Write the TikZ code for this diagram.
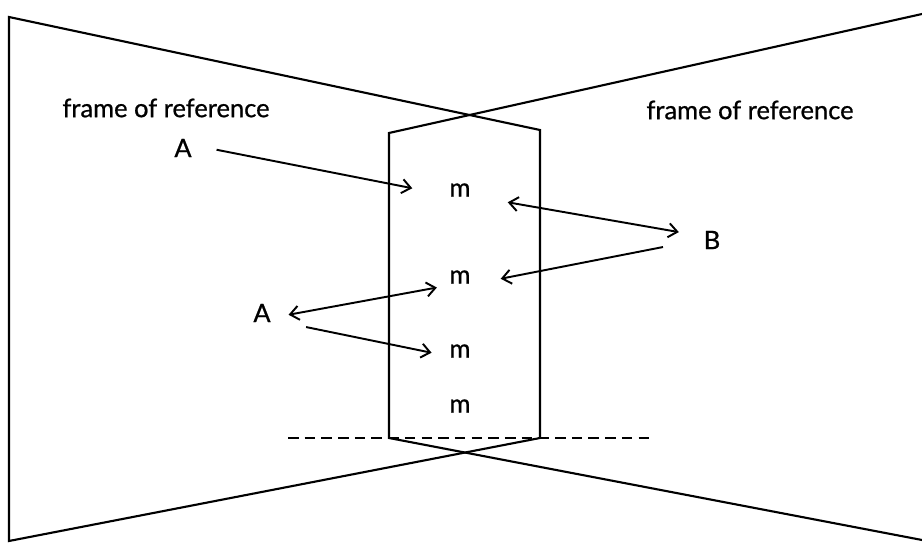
\documentclass[tikz,border=0pt]{standalone}
\usepackage{fontspec}
\setmainfont{Lato}
\newfontfamily\lblfont{Lato}[FakeBold=0.8]
\usetikzlibrary{arrows.meta}

\begin{document}
\begin{tikzpicture}[x=0.02cm, y=-0.02cm,
  wall/.style={line width=1.2pt, line join=miter},
  lbl/.style={font=\lblfont\fontsize{14.5}{17}\selectfont, inner sep=2pt},
  link/.style={line width=1.1pt, -{Straight Barb[length=5pt,width=8pt]}},
  both/.style={line width=1.1pt, {Straight Barb[length=5pt,width=8pt]}-{Straight Barb[length=5pt,width=8pt]}}]
\useasboundingbox (0,0) rectangle (922,543);
% the two frames, seen edge-on where they cross
\draw[wall] (9,17) -- (540,130) -- (540,438) -- (9,541) -- cycle;
\draw[wall] (922,14) -- (389,133) -- (389,438) -- (922,540);
\draw[wall, line width=1.4pt, dash pattern=on 6pt off 3.5pt] (288,438) -- (655,438);
% labels
\node[lbl] (fl) at (166,108) {frame of reference};
\node[lbl] (fr) at (750,110) {frame of reference};
\node[lbl] (A1) at (183,148) {A};
\node[lbl] (A2) at (262,313) {A};
\node[lbl] (B) at (712,240) {B};
\node[lbl] (m1) at (460,190) {m};
\node[lbl] (m2) at (460,277) {m};
\node[lbl] (m3) at (460,351) {m};
\node[lbl] (m4) at (460,406) {m};
% signals between A, B and the masses
\draw[link] ([xshift=12pt,yshift=-1pt]A1.east) -- ([xshift=-19pt,yshift=1pt]m1.west);
\draw[both] ([xshift=19pt,yshift=-7pt]m1.east) -- ([xshift=-12pt,yshift=4.5pt]B.west);
\draw[link] ([xshift=-21pt,yshift=-4pt]B.west) -- ([xshift=15pt,yshift=-1pt]m2.east);
\draw[both] ([xshift=8pt,yshift=-1pt]A2.east) -- ([xshift=-5pt,yshift=-6pt]m2.west);
\draw[link] ([xshift=18pt,yshift=-8pt]A2.east) -- ([xshift=-8pt,yshift=-1pt]m3.west);
\end{tikzpicture}
\end{document}
